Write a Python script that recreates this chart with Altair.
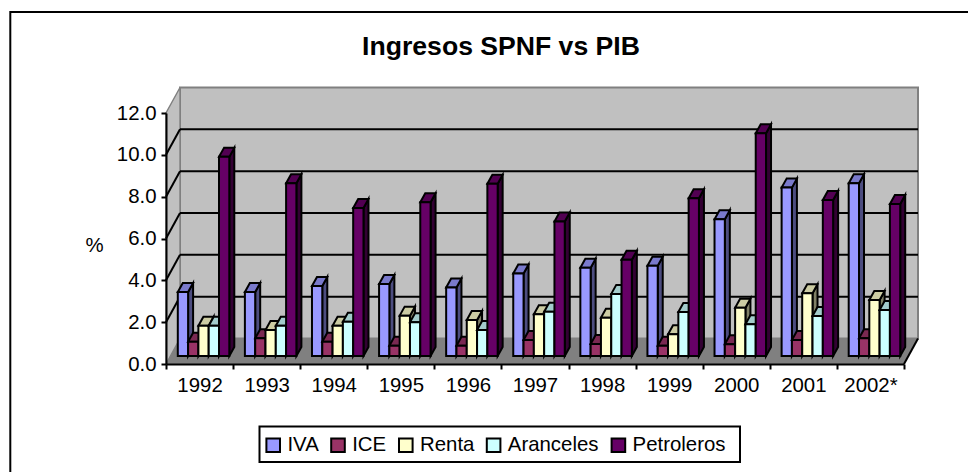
import altair as alt
import pandas as pd

YEARS = ["1992", "1993", "1994", "1995", "1996", "1997", "1998", "1999", "2000", "2001", "2002*"]
SERIES = ["IVA", "ICE", "Renta", "Aranceles", "Petroleros"]
IVA = [3.06, 3.06, 3.35, 3.44, 3.27, 3.94, 4.22, 4.32, 6.54, 8.05, 8.26]
ICE = [0.68, 0.85, 0.68, 0.49, 0.49, 0.77, 0.57, 0.49, 0.56, 0.77, 0.85]
RENTA = [1.45, 1.24, 1.45, 1.93, 1.72, 2.00, 1.83, 1.04, 2.31, 3.00, 2.68]
ARANCELES = [1.45, 1.45, 1.64, 1.61, 1.24, 2.12, 2.97, 2.10, 1.52, 1.91, 2.20]
PETROLEROS = [9.52, 8.26, 7.08, 7.35, 8.23, 6.43, 4.60, 7.54, 10.65, 7.46, 7.27]
VALUES = [IVA, ICE, RENTA, ARANCELES, PETROLEROS]
FRONT = ["#9999FF", "#993366", "#FFFFCC", "#CCFFFF", "#660066"]
SIDE = ["#4D4D80", "#4D1A33", "#808066", "#668080", "#330033"]
TOP = ["#7A7ACC", "#7A2952", "#CCCCA3", "#A3CCCC", "#520052"]
Y_TICKS = [0, 2, 4, 6, 8, 10, 12]

W, H = 738, 251
FONT = "Liberation Sans"
FS = 20.4
SW = 2
DX, DY = 14 / (W / 11), 25.5 / (H / 12)       # wall depth in data units
BDX, BDY = 5 / (W / 11), 9 / (H / 12)         # bar depth
BASE = 8 / (H / 12)
BAR = 10.3 / (W / 11)
GROUP_OFF = 11.8 / (W / 11)

x_axis = alt.Axis(values=list(range(12)), title=None, grid=False, domainColor="black", domainWidth=SW,
                  tickColor="black", tickWidth=SW, tickSize=5, labelFont=FONT, labelFontSize=FS, labelColor="black",
                  labelExpr="[" + ",".join(f"'{y}'" for y in YEARS) + ",''][datum.value]",
                  labelOffset=W / 22, labelOverlap=False, labelBound=False, labelFlush=False, labelPadding=6, zindex=2)
y_axis = alt.Axis(values=Y_TICKS, format=".1f", title="%", titleAngle=0, titleFont=FONT, titleFontSize=FS,
                  titleFontWeight="normal", titleColor="black", titleX=-72, titleY=132, titleAlign="center",
                  titleBaseline="middle", grid=False, domainColor="black", domainWidth=SW, tickColor="black",
                  tickWidth=SW, tickSize=5, labelFont=FONT, labelFontSize=FS, labelColor="black", labelPadding=5,
                  labelOverlap=False, zindex=2)
X = alt.X("x:Q", scale=alt.Scale(domain=[0, 11], nice=False, zero=False), axis=x_axis)
Y = alt.Y("y:Q", scale=alt.Scale(domain=[0, 12], nice=False), axis=y_axis)

# frame: open to the right and at the bottom, it runs off the picture
frame = alt.Chart(pd.DataFrame({"a": [0]})).mark_rect(fill="white", stroke="black", strokeWidth=SW).encode(
    x=alt.value(-155.7), x2=alt.value(840), y=alt.value(-101), y2=alt.value(390))
# legend box
legend_box = alt.Chart(pd.DataFrame({"a": [0]})).mark_rect(fill="white", stroke="black", strokeWidth=SW).encode(
    x=alt.value(93.5), x2=alt.value(574), y=alt.value(313.5), y2=alt.value(349))

# walls and floor
back = alt.Chart(pd.DataFrame({"x": [DX], "x2": [11 + DX], "y": [DY], "y2": [12 + DY]})).mark_rect(
    fill="#C0C0C0", stroke="#808080", strokeWidth=SW).encode(x=X, x2="x2:Q", y=Y, y2="y2:Q")
left = alt.Chart(pd.DataFrame({"x": [0, DX], "y": [0, DY], "y2": [12, 12 + DY]})).mark_area(
    fill="#C0C0C0", stroke="#808080", strokeWidth=1.4).encode(x=X, y=Y, y2="y2:Q")
floor = alt.Chart(pd.DataFrame({"y": [0, DY], "x": [0, DX], "x2": [11, 11 + DX]})).mark_area(
    orient="horizontal", fill="#808080").encode(x=X, x2="x2:Q", y=Y)
floor_edge = alt.Chart(pd.DataFrame({"x": [11, 11 + DX], "y": [0, DY]})).mark_line(
    color="black", strokeWidth=SW).encode(x=X, y=Y)

grid_rows = [t for t in Y_TICKS if t > 0 and t < 12]
grid = alt.Chart(pd.DataFrame({"x": [DX] * len(grid_rows), "x2": [11 + DX] * len(grid_rows),
                               "y": [t + DY for t in grid_rows]})).mark_rule(
    color="black", strokeWidth=SW).encode(x=X, x2="x2:Q", y=Y)
slant = pd.DataFrame([{"t": t, "x": p, "y": t + (DY if p else 0)} for t in grid_rows for p in (0, DX)])
grid_side = alt.Chart(slant).mark_line(color="black", strokeWidth=SW).encode(x=X, y=Y, detail="t:N")

layers = [frame, legend_box, back, left, floor, floor_edge, grid, grid_side]

color = alt.Color("serie:N", scale=alt.Scale(domain=SERIES, range=FRONT),
                  legend=alt.Legend(orient="none", legendX=97, legendY=322, direction="horizontal", columns=5,
                                    gridAlign="none", title=None, symbolType="square", symbolSize=185,
                                    symbolStrokeColor="black", symbolStrokeWidth=SW, labelFont=FONT, labelFontSize=FS,
                                    labelColor="black", labelOffset=4, columnPadding=7.8, padding=0))

for s, (name, vals) in enumerate(zip(SERIES, VALUES)):
    side_rows, top_rows, front_rows = [], [], []
    for c, v in enumerate(vals):
        x0 = c + GROUP_OFF + s * BAR
        x1 = x0 + BAR
        t = v + BASE
        front_rows.append({"serie": name, "x": x0, "x2": x1, "y": BASE, "y2": t})
        side_rows += [{"c": c, "x": x1, "y": BASE, "y2": t}, {"c": c, "x": x1 + BDX, "y": BASE + BDY, "y2": t + BDY}]
        top_rows += [{"c": c, "y": t, "x": x0, "x2": x1}, {"c": c, "y": t + BDY, "x": x0 + BDX, "x2": x1 + BDX}]
    layers.append(alt.Chart(pd.DataFrame(side_rows)).mark_area(fill=SIDE[s], stroke="black", strokeWidth=SW).encode(
        x=X, y=Y, y2="y2:Q", detail="c:N"))
    layers.append(alt.Chart(pd.DataFrame(top_rows)).mark_area(orient="horizontal", fill=TOP[s], stroke="black", strokeWidth=SW).encode(
        x=X, x2="x2:Q", y=Y, detail="c:N"))
    layers.append(alt.Chart(pd.DataFrame(front_rows)).mark_rect(stroke="black", strokeWidth=SW).encode(
        x=X, x2="x2:Q", y=Y, y2="y2:Q", color=color))

chart = alt.layer(*layers).resolve_scale(x="shared", y="shared").properties(
    width=W, height=H,
    title=alt.TitleParams("Ingresos SPNF vs PIB", font=FONT, fontSize=26.6, fontWeight="bold", color="black",
                          anchor="middle", dx=-34, offset=-50),
    autosize=alt.AutoSizeParams(type="none"),
    padding={"left": 158, "top": 105, "right": 64, "bottom": 108},
).configure_view(stroke=None).configure(background="white")

chart.save("out.html", embed_options={"renderer": "svg", "actions": False})
